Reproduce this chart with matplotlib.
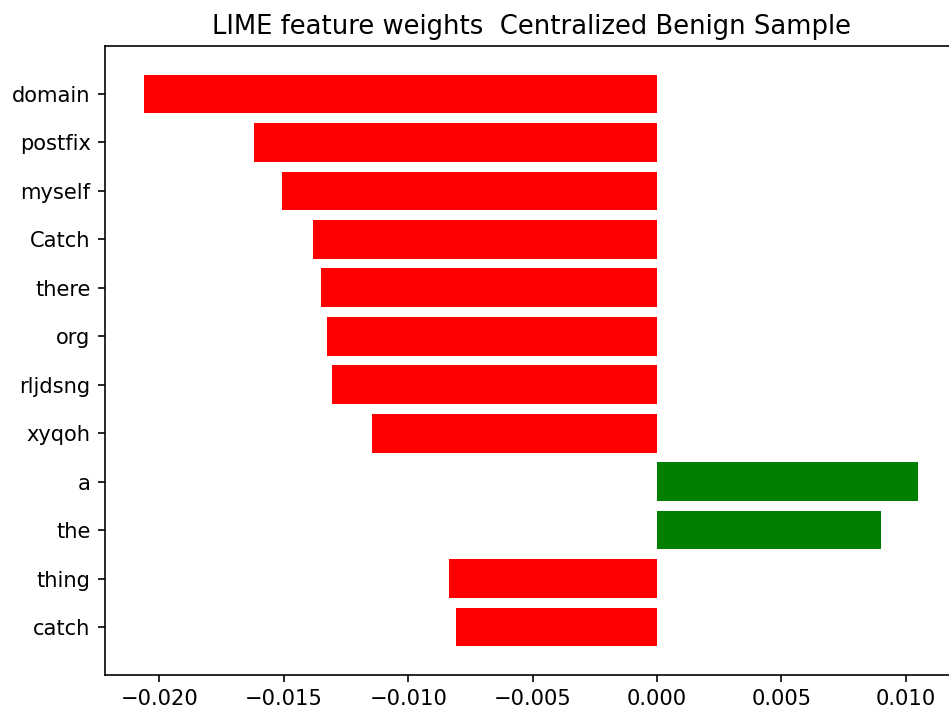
import matplotlib
matplotlib.use("Agg")
import matplotlib.pyplot as plt

# LIME weights, listed bottom to top as in as_pyplot_figure
features = ["catch", "thing", "the", "a", "xyqoh", "rljdsng", "org",
            "there", "Catch", "myself", "postfix", "domain"]
weights = [-0.00807, -0.00838, 0.00899, 0.01050, -0.01144, -0.01306,
           -0.01326, -0.01352, -0.01383, -0.01507, -0.01621, -0.02063]

colors = ["green" if w > 0 else "red" for w in weights]
pos = list(range(len(weights)))

W, H, dpi = 949, 713, 148
fig = plt.figure(figsize=(W / dpi, H / dpi), dpi=dpi)
ax = fig.add_axes([105 / W, (H - 675) / H, (957 - 105) / W, (675 - 46) / H])
ax.barh(pos, weights, align="center", color=colors)
ax.set_yticks(pos)
ax.set_yticklabels(features, fontsize=10.2)
ax.tick_params(axis="x", labelsize=10.2)
ax.set_title("LIME feature weights  Centralized Benign Sample", fontsize=12.6)

fig.savefig("out.png", dpi=dpi)
